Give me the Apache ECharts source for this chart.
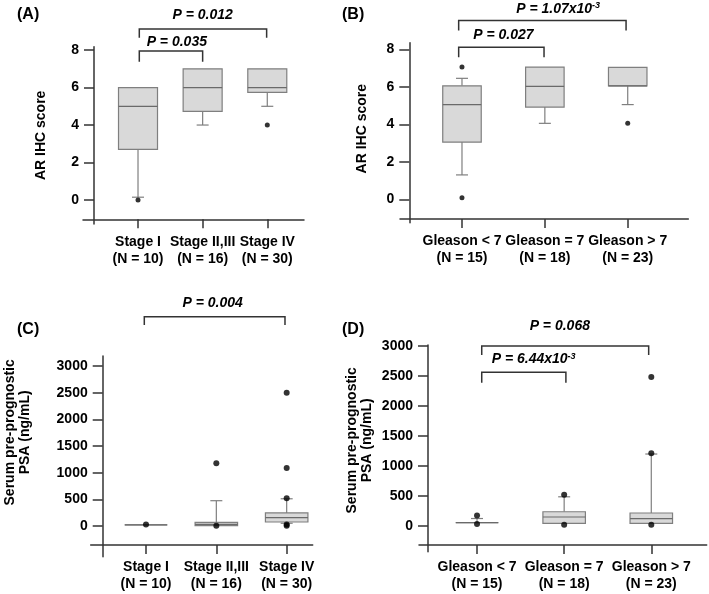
<!DOCTYPE html>
<html><head><meta charset="utf-8">
<script src="https://cdn.jsdelivr.net/npm/echarts@6/dist/echarts.min.js"></script>
<style>html,body{margin:0;padding:0;background:#fff}#c{width:709px;height:594px}</style>
</head><body><div id="c"></div>
<script>
// ---- categories & tick labels ----
const stageCats = ['Stage I\n(N = 10)', 'Stage II,III\n(N = 16)', 'Stage IV\n(N = 30)'];
const gleasonCats = ['Gleason < 7\n(N = 15)', 'Gleason = 7\n(N = 18)', 'Gleason > 7\n(N = 23)'];
const arTicks = [0, 2, 4, 6, 8];
const psaTicks = [0, 500, 1000, 1500, 2000, 2500, 3000];
const arName = 'AR IHC score';
const psaName = 'Serum pre-prognostic\nPSA (ng/mL)';

// ---- box values: [min whisker, Q1, median, Q3, max whisker] ----
const boxA = [[0.15, 2.7, 5, 6, 6], [4, 4.73, 6, 7, 7], [5, 5.74, 6, 7, 7]];
const outA = [[0], [], [4]];
const boxB = [[1.3, 3.05, 5.05, 6.05, 6.45], [4.05, 4.92, 6.02, 7.05, 7.05], [5.05, 6.05, 6.05, 7.03, 7.03]];
const outB = [[7.05, 0.08], [], [4.05]];
const boxC = [[20, 20, 20, 20, 20], [6, 6, 30, 69, 474], [51, 75, 156, 244, 510]];
const outC = [[30], [1176, 3], [2499, 1088, 519, 28, 5]];
const boxD = [[50, 50, 50, 50, 120], [40, 40, 145, 233, 482], [40, 40, 117, 212, 1195]];
const outD = [[172, 27], [515, 18], [2478, 1207, 18]];

// ---- significance brackets: [from, to, top, legEnd] and P labels ----
const brkA = [[1.02, 2.0, 7.95, 7.38], [1.02, 2.99, 9.12, 8.66]];
const pA = [['P = 0.035', ''], ['P = 0.012', '']];
const pPosA = [[1.6, 8.44], [2.0, 9.87]];
const brkB = [[0.96, 1.99, 8.11, 7.57], [0.96, 2.98, 9.53, 9.0]];
const pB = [['P = 0.027', ''], ['P = 1.07x10', '-3']];
const pPosB = [[1.5, 8.76], [2.16, 10.13]];
const brkC = [[0.976, 2.976, 3924, 3769]];
const pC = [['P = 0.004', '']];
const pPosC = [[1.948, 4187]];
const brkD = [[1.054, 2.02, 2557, 2383], [1.054, 2.97, 2997, 2845]];
const pD = [['P = 6.44x10', '-3'], ['P = 0.068', '']];
const pPosD = [[1.65, 2770], [1.95, 3320]];

const FF = '"Liberation Sans", Arial, Helvetica, sans-serif';
const AX = '#333';

function xAx(gi, min, max, cats, off) {
  return {
    type: 'value', gridIndex: gi, min, max, offset: off,
    axisLine: { onZero: false, lineStyle: { color: AX, width: 1.5 } },
    axisTick: { customValues: [1, 2, 3], length: 9, lineStyle: { color: AX, width: 1.5 } },
    axisLabel: { customValues: [1, 2, 3], formatter: v => cats[Math.round(v) - 1], margin: 14,
      fontSize: 14, fontWeight: 'bold', color: '#000', fontFamily: FF, lineHeight: 17 },
    splitLine: { show: false }
  };
}
function yAx(gi, min, max, ticks, off, name, gap, pad, lh) {
  return {
    type: 'value', gridIndex: gi, min, max, offset: off,
    name, nameLocation: 'middle', nameGap: gap, nameRotate: 90,
    nameTextStyle: { fontSize: 14, fontWeight: 'bold', color: '#000', fontFamily: FF, padding: [0, 0, 0, pad], lineHeight: lh, align: 'center' },
    axisLine: { show: true, onZero: false, lineStyle: { color: AX, width: 1.5 } },
    axisTick: { show: true, customValues: ticks, length: 10, lineStyle: { color: AX, width: 1.5 } },
    axisLabel: { customValues: ticks, formatter: v => String(v), margin: 15, fontSize: 14, fontWeight: 'bold', color: '#000', fontFamily: FF },
    splitLine: { show: false }
  };
}
function boxSeries(gi, box, width) {
  return {
    type: 'custom', xAxisIndex: gi, yAxisIndex: gi, clip: false,
    data: box.map((b, i) => [i + 1].concat(b)),
    renderItem: function (params, api) {
      const x = api.value(0);
      const v = [1, 2, 3, 4, 5].map(k => api.value(k));
      const p = v.map(val => api.coord([x, val]));
      const cx = p[0][0], h = width / 2, cap = 6;
      const gs = { stroke: '#7f7f7f', lineWidth: 1.2 };
      const ch = [];
      if (v[4] > v[3]) {
        ch.push({ type: 'line', shape: { x1: cx, y1: p[3][1], x2: cx, y2: p[4][1] }, style: gs });
        ch.push({ type: 'line', shape: { x1: cx - cap, y1: p[4][1], x2: cx + cap, y2: p[4][1] }, style: gs });
      }
      if (v[0] < v[1]) {
        ch.push({ type: 'line', shape: { x1: cx, y1: p[1][1], x2: cx, y2: p[0][1] }, style: gs });
        ch.push({ type: 'line', shape: { x1: cx - cap, y1: p[0][1], x2: cx + cap, y2: p[0][1] }, style: gs });
      }
      ch.push({ type: 'rect', shape: { x: cx - h, y: p[3][1], width: width, height: p[1][1] - p[3][1] },
        style: { fill: '#d9d9d9', stroke: '#7f7f7f', lineWidth: 1.2 } });
      ch.push({ type: 'line', shape: { x1: cx - h, y1: p[2][1], x2: cx + h, y2: p[2][1] }, style: { stroke: '#6a6a6a', lineWidth: 1.2 } });
      return { type: 'group', children: ch };
    }
  };
}
function outSeries(gi, out, size) {
  const pts = [];
  out.forEach((arr, i) => arr.forEach(v => pts.push([i + 1, v])));
  return { type: 'scatter', xAxisIndex: gi, yAxisIndex: gi, symbolSize: size, itemStyle: { color: '#000' }, data: pts, z: 5 };
}
function brkSeries(gi, brk, texts, pos) {
  return {
    type: 'custom', xAxisIndex: gi, yAxisIndex: gi, clip: false,
    data: brk.map((b, i) => b.concat(pos[i])),
    renderItem: function (params, api) {
      const f = api.value(0), t = api.value(1), top = api.value(2), leg = api.value(3);
      const a = api.coord([f, leg]), b = api.coord([f, top]), c = api.coord([t, top]), d = api.coord([t, leg]);
      const tp = api.coord([api.value(4), api.value(5)]);
      const tx = texts[params.dataIndex];
      const str = tx[1] ? '{m|' + tx[0] + '}{s|' + tx[1] + '}' : '{m|' + tx[0] + '}';
      return { type: 'group', children: [
        { type: 'polyline', shape: { points: [a, b, c, d] }, style: { stroke: AX, lineWidth: 1.5, fill: null } },
        { type: 'text', x: tp[0], y: tp[1], style: { text: str, align: 'center', verticalAlign: 'middle',
          rich: { m: { fontSize: 14, fontWeight: 'bold', fontStyle: 'italic', fontFamily: FF, fill: '#000', lineHeight: 16 },
                  s: { fontSize: 9, fontWeight: 'bold', fontStyle: 'italic', fontFamily: FF, fill: '#000', verticalAlign: 'top', lineHeight: 10 } } } }
      ] };
    }
  };
}

const titleStyle = { fontSize: 16, fontWeight: 'bold', color: '#000', fontFamily: FF };
const option = {
  animation: false,
  backgroundColor: '#fff',
  title: [
    { text: '(A)', left: 17, top: 7, padding: 0, textStyle: titleStyle },
    { text: '(B)', left: 342, top: 7, padding: 0, textStyle: titleStyle },
    { text: '(C)', left: 17, top: 322, padding: 0, textStyle: titleStyle },
    { text: '(D)', left: 342, top: 322, padding: 0, textStyle: titleStyle }
  ],
  grid: [
    { left: 83, top: 46.7, width: 221, height: 177.3 },
    { left: 400, top: 42.7, width: 288.3, height: 180 },
    { left: 90.7, top: 356, width: 222, height: 200.7 },
    { left: 419, top: 345, width: 287.7, height: 206.7 }
  ],
  xAxis: [
    xAx(0, 0.149, 3.568, stageCats, -4.7),
    xAx(1, 0.252, 3.731, gleasonCats, -3.7),
    xAx(2, 0.214, 3.37, stageCats, -11.7),
    xAx(3, 0.334, 3.636, gleasonCats, -6.7)
  ],
  yAxis: [
    yAx(0, -1.28, 8.18, arTicks, -11, arName, 45, 0, 16),
    yAx(1, -1.248, 8.35, arTicks, -9.3, arName, 39, 8, 16),
    yAx(2, -576, 3187, psaTicks, -12, psaName, 70, 48, 15),
    yAx(3, -433, 3012, psaTicks, -9, psaName, 53, 16, 15)
  ],
  series: [
    boxSeries(0, boxA, 39), outSeries(0, outA, 5), brkSeries(0, brkA, pA, pPosA),
    boxSeries(1, boxB, 38.5), outSeries(1, outB, 5), brkSeries(1, brkB, pB, pPosB),
    boxSeries(2, boxC, 42.5), outSeries(2, outC, 6), brkSeries(2, brkC, pC, pPosC),
    boxSeries(3, boxD, 42.5), outSeries(3, outD, 6), brkSeries(3, brkD, pD, pPosD)
  ]
};
const chart = echarts.init(document.getElementById('c'), null, { renderer: 'canvas' });
chart.setOption(option);
</script>
</body></html>
